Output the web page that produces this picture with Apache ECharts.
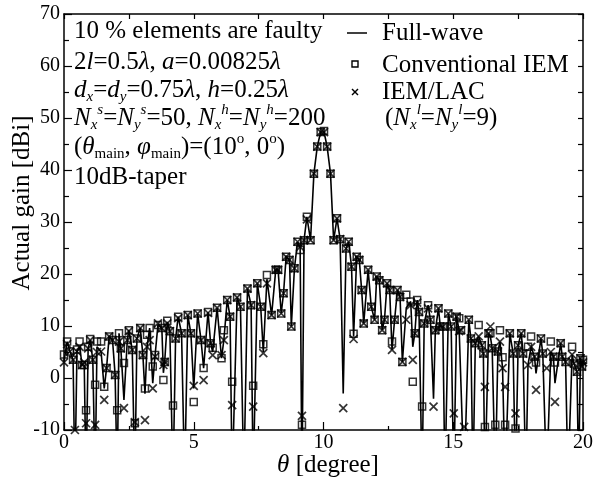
<!DOCTYPE html>
<html>
<head>
<meta charset="utf-8">
<script src="https://cdn.jsdelivr.net/npm/echarts@6/dist/echarts.min.js"></script>
<style>
html,body{margin:0;padding:0;background:#fff;}
#chart{width:596px;height:482px;}
</style>
</head>
<body>
<div id="chart"></div>
<script>
// theta [degree]
const theta = [0.00,0.12,0.23,0.35,0.42,0.50,0.60,0.70,0.78,0.85,0.93,1.01,1.11,1.20,1.27,1.43,1.55,1.64,1.74,1.87,1.97,2.05,2.12,2.19,2.31,2.44,2.50,2.63,2.73,2.81,2.94,3.04,3.12,3.20,3.30,3.42,3.51,3.62,3.77,3.83,3.88,3.98,4.08,4.20,4.30,4.40,4.53,4.65,4.77,4.89,5.00,5.15,5.28,5.38,5.55,5.65,5.73,5.90,6.07,6.16,6.29,6.40,6.48,6.67,6.80,6.93,7.07,7.21,7.29,7.45,7.58,7.68,7.82,8.00,8.16,8.25,8.37,8.46,8.56,8.69,8.76,8.88,9.00,9.10,9.17,9.25,9.36,9.50,9.63,9.76,9.89,10.02,10.14,10.27,10.39,10.52,10.64,10.76,10.87,10.97,11.08,11.16,11.28,11.38,11.47,11.55,11.72,11.84,11.97,12.05,12.15,12.26,12.35,12.45,12.55,12.64,12.74,12.85,12.95,13.04,13.19,13.36,13.44,13.52,13.61,13.68,13.80,13.88,14.03,14.12,14.24,14.31,14.43,14.50,14.60,14.68,14.81,14.92,15.02,15.13,15.23,15.30,15.42,15.60,15.68,15.76,15.85,15.98,16.10,16.16,16.22,16.36,16.43,16.50,16.62,16.72,16.80,16.90,17.00,17.18,17.31,17.40,17.50,17.62,17.69,17.80,17.88,18.00,18.13,18.19,18.38,18.45,18.60,18.76,18.86,18.92,19.14,19.20,19.33,19.42,19.58,19.65,19.77,19.83,19.90,19.96,20.00];
// Full-wave gain [dBi] (values below -10 are off-scale nulls)
const fullWave = [3.2,7.0,5.1,3.5,-20,5.1,6.0,2.5,2.5,-20,5.7,7.3,3.5,-20,6.0,5.0,-2.0,1.9,8.0,7.3,0.6,-20,8.6,5.7,-4.2,7.3,9.2,5.4,-20,7.6,9.6,4.4,-3.0,6.0,9.6,-1.0,4.4,10.2,9.6,1.0,3.1,10.8,9.0,-20,7.6,11.8,8.6,-20,12.1,8.6,-2.0,12.4,7.3,1.9,12.7,6.7,5.0,13.5,3.8,7.3,15.0,11.8,-20,15.5,13.7,-20,17.2,14.0,-20,18.2,13.7,5.0,19.0,12.1,20.8,20.8,12.4,16.3,23.3,22.7,9.9,21.1,26.2,25.0,-20,26.5,31.0,26.5,39.3,44.5,47.3,47.3,44.5,39.3,26.5,30.7,26.7,-3.0,24.9,26.2,21.4,8.0,23.3,22.7,16.9,10.5,20.8,13.7,11.2,19.5,18.8,9.2,11.2,18.2,16.9,5.4,11.2,16.9,15.6,3.1,13.5,14.7,6.0,8.6,15.0,12.7,-20,10.5,14.0,11.2,-4.0,9.2,13.4,9.9,9.9,-20,12.4,9.9,-20,11.8,9.0,9.2,-20,11.2,7.6,-20,6.7,8.0,6.3,4.7,-20,8.6,8.0,5.7,-20,5.1,7.0,1.9,-20,8.6,4.7,-20,6.3,8.6,4.7,-20,2.5,6.0,4.1,0.9,7.6,4.7,-20,5.0,4.1,-1.0,6.7,4.1,3.1,-20,4.5,2.8,1.2,-20,3.8,2.2,3.0];
// Conventional IEM gain [dBi]
const convIEM = [4.5,7.0,5.1,3.5,-20,5.5,7.0,2.5,2.5,-6.2,6.0,7.5,3.5,-1.3,7.0,7.0,-1.7,1.9,8.0,7.3,0.6,-6.2,8.6,5.7,2.9,7.3,9.2,5.4,-8.7,7.6,9.6,4.4,-2.0,8.3,9.6,2.2,4.4,10.2,9.6,-0.4,3.1,11.0,9.0,-5.3,7.6,11.8,8.6,-20,12.1,8.6,-4.6,12.4,7.3,1.9,12.7,6.7,5.8,13.5,3.8,9.2,15.0,11.8,-0.7,15.5,13.7,-20,17.2,14.0,-1.5,18.2,13.7,6.5,19.8,12.1,20.8,20.8,12.4,16.3,23.3,22.7,9.9,21.1,26.2,24.6,-9.0,26.5,31.0,26.5,39.3,44.5,47.3,47.5,44.5,39.3,26.5,30.7,26.7,-20,24.9,26.2,21.4,8.5,23.3,22.7,16.9,10.5,20.8,13.7,11.2,19.5,18.8,9.2,11.2,18.2,16.9,7.0,11.2,16.9,15.6,3.1,16.0,14.7,-0.7,8.6,15.0,12.7,-5.5,10.5,14.0,11.2,-20,9.2,13.4,9.9,9.9,-20,12.4,9.9,-20,11.8,11.5,9.2,-20,11.2,7.6,-20,6.7,10.2,6.3,4.7,-9.4,8.6,8.6,5.7,-9.0,5.1,9.2,4.0,-9.0,8.6,4.7,-9.7,6.3,8.6,4.7,-20,6.0,8.0,4.1,3.0,7.6,4.7,-20,7.0,4.1,3.0,6.7,4.1,3.1,-20,6.0,2.8,1.2,-20,3.8,2.2,3.5];
// IEM/LAC gain [dBi]
const iemLAC = [3.0,6.5,5.1,3.5,-10,5.1,6.0,2.5,3.0,-8.7,5.7,7.3,3.5,-9.0,5.0,5.1,-4.2,1.9,8.0,7.3,0.6,-20,7.0,5.7,-5.8,7.3,9.0,5.4,-8.5,7.6,9.6,4.4,-8.1,6.0,7.3,-2.0,4.1,10.5,9.6,2.5,3.1,10.5,9.0,-20,7.6,11.5,8.6,-20,12.1,8.6,-1.5,12.4,7.3,-0.4,12.5,6.7,4.4,13.5,4.4,7.3,15.0,11.8,-5.2,15.5,13.7,-20,17.2,14.0,-5.5,18.2,13.7,4.8,18.2,12.1,20.8,20.8,12.4,16.3,23.3,22.7,9.9,21.1,26.2,25.2,-7.3,26.5,30.5,26.5,39.3,44.5,47.3,47.3,44.5,39.3,26.5,30.7,26.7,-5.8,24.9,26.2,21.4,7.5,23.3,22.7,16.9,10.5,20.8,13.7,11.2,19.5,18.8,9.2,11.2,18.2,16.9,5.4,11.2,16.9,15.6,3.1,11.2,14.0,3.5,8.6,14.5,12.7,-20,10.5,13.4,11.2,-5.5,9.2,13.4,9.9,9.9,-20,12.4,9.9,-6.8,11.8,9.0,9.2,-9.4,11.2,7.6,-20,6.7,8.0,6.3,4.7,-1.7,8.6,9.9,5.7,-20,5.1,7.0,1.9,-1.7,8.6,4.7,-6.8,6.3,8.6,4.7,-20,2.5,6.0,4.1,-2.3,7.6,4.7,1.9,5.0,4.1,-4.6,6.7,4.1,3.1,-20,4.5,2.8,1.2,-20,3.8,2.2,3.0];
// axis ticks
const xTicks = {min: 0, max: 20, interval: 5};
const yTicks = {min: -10, max: 70, interval: 10};

const FONT = 'Liberation Serif';
const pair = arr => theta.map((t, i) => [t, arr[i]]);

const base = {fontFamily: FONT, fontSize: 25, fill: '#000', lineHeight: 30, verticalAlign: 'middle'};
const rich = {
  r: Object.assign({}, base),
  i: Object.assign({}, base, {fontStyle: 'italic'}),
  sb: {fontFamily: FONT, fontSize: 15, fill: '#000', lineHeight: 15, verticalAlign: 'bottom'},
  sbi: {fontFamily: FONT, fontSize: 15, fill: '#000', lineHeight: 15, verticalAlign: 'bottom', fontStyle: 'italic'},
  sp: {fontFamily: FONT, fontSize: 15, fill: '#000', lineHeight: 15, verticalAlign: 'top'},
  spi: {fontFamily: FONT, fontSize: 15, fill: '#000', lineHeight: 15, verticalAlign: 'top', fontStyle: 'italic'}
};
function txt(x, y, text, align) {
  return {type: 'text', x: x, y: y, silent: true,
    style: {text: text, rich: rich, textAlign: align || 'left', textVerticalAlign: 'middle', fill: '#000', font: "25px 'Liberation Serif'"}};
}

const annX = 74;
const graphics = [
  txt(annX, 31, '{r|10 % elements are faulty}'),
  txt(annX, 62, '{r|2}{i|l}{r|=0.5}{i|λ}{r|, }{i|a}{r|=0.00825}{i|λ}'),
  txt(annX, 90, '{i|d}{sbi|x}{r|=}{i|d}{sbi|y}{r|=0.75}{i|λ}{r|, }{i|h}{r|=0.25}{i|λ}'),
  txt(annX, 118, '{i|N}{sbi|x}{spi|s}{r|=}{i|N}{sbi|y}{spi|s}{r|=50, }{i|N}{sbi|x}{spi|h}{r|=}{i|N}{sbi|y}{spi|h}{r|=200}'),
  txt(annX, 147, '{r|(}{i|θ}{sb|main}{r|, }{i|φ}{sb|main}{r|)=(10}{sp|o}{r|, 0}{sp|o}{r|)}'),
  txt(annX, 177, '{r|10dB-taper}'),
  // legend
  {type: 'line', silent: true, shape: {x1: 347, y1: 33, x2: 367, y2: 33}, style: {stroke: '#000', lineWidth: 1.5}},
  txt(382, 33, '{r|Full-wave}'),
  {type: 'rect', silent: true, shape: {x: 352, y: 61, width: 6, height: 6}, style: {stroke: '#000', fill: 'none', lineWidth: 1.4}},
  txt(382, 65, '{r|Conventional IEM}'),
  {type: 'polyline', silent: true, shape: {points: [[352, 89], [358, 95]]}, style: {stroke: '#000', lineWidth: 1.4}},
  {type: 'polyline', silent: true, shape: {points: [[358, 89], [352, 95]]}, style: {stroke: '#000', lineWidth: 1.4}},
  txt(382, 92, '{r|IEM/LAC}'),
  txt(385, 118, '{r|(}{i|N}{sbi|x}{spi|l}{r|=}{i|N}{sbi|y}{spi|l}{r|=9)}'),
  // axis names
  txt(328, 465, '{i|θ}{r| [degree]}', 'center'),
  {type: 'text', x: 22, y: 203, rotation: Math.PI / 2, silent: true,
    style: {text: 'Actual gain [dBi]', textAlign: 'center', textVerticalAlign: 'middle', fill: '#000', font: "25px 'Liberation Serif'"}}
];

const axLine = {show: true, onZero: false, lineStyle: {color: '#000', width: 1.5}};
const chart = echarts.init(document.getElementById('chart'), null, {renderer: 'canvas'});
chart.setOption({
  animation: false,
  backgroundColor: '#fff',
  grid: {left: 64, right: 4, top: 14, bottom: 52, containLabel: false},
  xAxis: [
    {type: 'value', position: 'bottom', min: xTicks.min, max: xTicks.max, interval: xTicks.interval,
      axisLine: axLine,
      axisTick: {show: true, inside: true, length: 8, lineStyle: {color: '#000', width: 1.2}},
      minorTick: {show: true, splitNumber: 2, length: 4, lineStyle: {color: '#000', width: 1.2}},
      axisLabel: {color: '#000', fontFamily: FONT, fontSize: 20, margin: 3, alignMaxLabel: 'center', alignMinLabel: 'center'},
      splitLine: {show: false}, minorSplitLine: {show: false}},
    {type: 'value', position: 'top', min: xTicks.min, max: xTicks.max, interval: xTicks.interval / 2,
      axisLine: axLine,
      axisTick: {show: true, inside: true, length: 5, lineStyle: {color: '#000', width: 1.2}},
      axisLabel: {show: false}, splitLine: {show: false}}
  ],
  yAxis: [
    {type: 'value', position: 'left', min: yTicks.min, max: yTicks.max, interval: yTicks.interval,
      axisLine: axLine,
      axisTick: {show: true, inside: true, length: 8, lineStyle: {color: '#000', width: 1.2}},
      minorTick: {show: true, splitNumber: 2, length: 5, lineStyle: {color: '#000', width: 1.2}},
      axisLabel: {color: '#000', fontFamily: FONT, fontSize: 20, margin: 4},
      splitLine: {show: false}, minorSplitLine: {show: false}},
    {type: 'value', position: 'right', min: yTicks.min, max: yTicks.max, interval: yTicks.interval / 2,
      axisLine: axLine,
      axisTick: {show: true, inside: true, length: 5, lineStyle: {color: '#000', width: 1.2}},
      axisLabel: {show: false}, splitLine: {show: false}}
  ],
  series: [
    {name: 'Full-wave', type: 'line', xAxisIndex: 0, yAxisIndex: 0, data: pair(fullWave),
      showSymbol: false, symbol: 'none', clip: true,
      lineStyle: {color: '#000', width: 1.6}, z: 2},
    {name: 'Conventional IEM', type: 'scatter', xAxisIndex: 0, yAxisIndex: 0, data: pair(convIEM),
      symbol: 'rect', symbolSize: 7, clip: true,
      itemStyle: {color: 'rgba(255,255,255,0)', borderColor: '#000', borderWidth: 1.5}, z: 3},
    {name: 'IEM/LAC', type: 'scatter', xAxisIndex: 0, yAxisIndex: 0, data: pair(iemLAC),
      symbol: 'path://M0,0L10,10M10,0L0,10', symbolSize: 8, clip: true,
      itemStyle: {color: 'rgba(255,255,255,0)', borderColor: '#000', borderWidth: 1.7}, z: 4}
  ],
  graphic: graphics
});
</script>
</body>
</html>
